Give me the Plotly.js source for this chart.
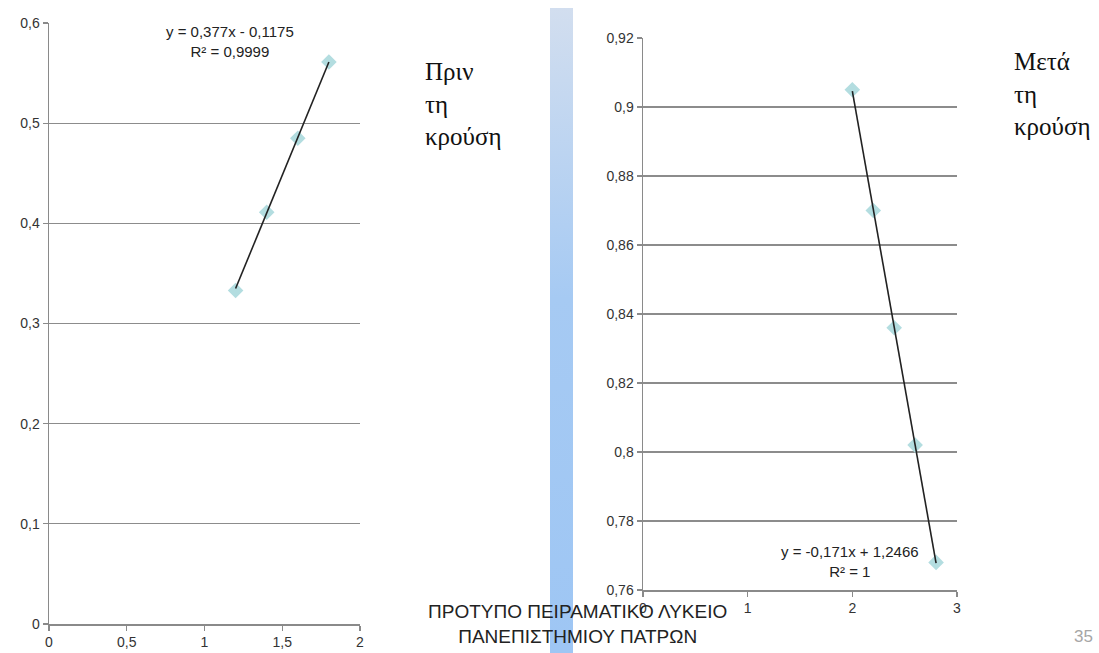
<!DOCTYPE html>
<html>
<head>
<meta charset="utf-8">
<script src="https://cdn.plot.ly/plotly-3.0.1.min.js"></script>
<style>
  html, body { margin: 0; padding: 0; background: #ffffff; }
  #chart { width: 1099px; height: 653px; }
</style>
</head>
<body>
<div id="chart"></div>
<script>
// Before the collision: measured points and fitted line
const beforeX = [1.2, 1.4, 1.6, 1.8];
const beforeY = [0.333, 0.411, 0.485, 0.561];
const beforeSlope = 0.377;
const beforeIntercept = -0.1175;
const beforeR2 = "0,9999";

// After the collision: measured points and fitted line
const afterX = [2.0, 2.2, 2.4, 2.6, 2.8];
const afterY = [0.905, 0.870, 0.836, 0.802, 0.768];
const afterSlope = -0.171;
const afterIntercept = 1.2466;
const afterR2 = "1";

const beforeLabel = "Πριν<br>τη<br>κρούση";
const afterLabel = "Μετά<br>τη<br>κρούση";
const footerLines = ["ΠΡΟΤΥΠΟ ΠΕΙΡΑΜΑΤΙΚΟ ΛΥΚΕΙΟ", "ΠΑΝΕΠΙΣΤΗΜΙΟΥ ΠΑΤΡΩΝ"];
const pageNumber = "35";

const fmt = v => String(v).replace(".", ",");
const fitText = (m, b, r2) =>
  "y = " + fmt(m) + "x " + (b < 0 ? "- " : "+ ") + fmt(Math.abs(b)) + "<br>R² = " + r2;

const lineOf = (xs, m, b) => {
  const x0 = Math.min(...xs), x1 = Math.max(...xs);
  return { x: [x0, x1], y: [m * x0 + b, m * x1 + b] };
};

const W = 1099, H = 653;
const px = v => v / W;
const py = v => 1 - v / H;

const markerStyle = { symbol: "diamond", size: 12, color: "#b3dde0", line: { width: 0 } };
const fitStyle = { color: "#222222", width: 1.6 };

const beforeFit = lineOf(beforeX, beforeSlope, beforeIntercept);
const afterFit = lineOf(afterX, afterSlope, afterIntercept);

const traces = [
  // decorative vertical divider with a soft gradient
  {
    x: [550, 573, 573, 550, 550], y: [8, 8, 653, 653, 8],
    xaxis: "x3", yaxis: "y3", mode: "lines", line: { width: 0 },
    fill: "toself",
    fillgradient: { type: "vertical", colorscale: [[0, "#9ec6f4"], [0.55, "#a6caf3"], [1, "#d2deef"]] },
    hoverinfo: "skip", showlegend: false
  },
  { x: beforeX, y: beforeY, mode: "markers", marker: markerStyle, xaxis: "x", yaxis: "y", showlegend: false },
  { x: beforeFit.x, y: beforeFit.y, mode: "lines", line: fitStyle, xaxis: "x", yaxis: "y", showlegend: false },
  { x: afterX, y: afterY, mode: "markers", marker: markerStyle, xaxis: "x2", yaxis: "y2", showlegend: false },
  { x: afterFit.x, y: afterFit.y, mode: "lines", line: fitStyle, xaxis: "x2", yaxis: "y2", showlegend: false }
];

const tickFont = { family: "Liberation Sans, Arial, sans-serif", size: 14, color: "#333333" };
const axisCommon = {
  showline: true, linecolor: "#8a8a8a", linewidth: 1.5,
  ticks: "outside", ticklen: 5, tickcolor: "#8a8a8a", tickwidth: 1.2,
  tickfont: tickFont, zeroline: false, fixedrange: true
};

const eqFont = { family: "Liberation Sans, Arial, sans-serif", size: 15, color: "#222222" };
const serifFont = { family: "Liberation Serif, Times New Roman, serif", size: 25, color: "#111111" };

const layout = {
  width: W, height: H,
  margin: { l: 0, r: 0, t: 0, b: 0 },
  paper_bgcolor: "#ffffff", plot_bgcolor: "rgba(0,0,0,0)",
  separators: ",.",
  showlegend: false,
  xaxis: Object.assign({}, axisCommon, {
    domain: [px(49), px(360)], range: [0, 2], dtick: 0.5, tick0: 0,
    showgrid: false, anchor: "y"
  }),
  yaxis: Object.assign({}, axisCommon, {
    domain: [py(624), py(23)], range: [0, 0.6], dtick: 0.1, tick0: 0,
    showgrid: true, gridcolor: "#8c8c8c", gridwidth: 1.2, anchor: "x"
  }),
  xaxis2: Object.assign({}, axisCommon, {
    domain: [px(643), px(957)], range: [0, 3], dtick: 1, tick0: 0,
    showgrid: false, anchor: "y2"
  }),
  yaxis2: Object.assign({}, axisCommon, {
    domain: [py(590), py(38)], range: [0.76, 0.92], dtick: 0.02, tick0: 0.76,
    showgrid: true, gridcolor: "#8c8c8c", gridwidth: 1.2, anchor: "x2"
  }),
  xaxis3: { domain: [0, 1], range: [0, W], visible: false, fixedrange: true, anchor: "y3" },
  yaxis3: { domain: [0, 1], range: [H, 0], visible: false, fixedrange: true, anchor: "x3" },
  annotations: [
    {
      xref: "paper", yref: "paper", x: px(230), y: py(42), xanchor: "center", yanchor: "middle",
      text: fitText(beforeSlope, beforeIntercept, beforeR2), showarrow: false, align: "center",
      font: eqFont
    },
    {
      xref: "paper", yref: "paper", x: px(850), y: py(561), xanchor: "center", yanchor: "middle",
      text: fitText(afterSlope, afterIntercept, afterR2), showarrow: false, align: "center",
      font: eqFont
    },
    {
      xref: "paper", yref: "paper", x: px(423), y: py(104), xanchor: "left", yanchor: "middle",
      text: beforeLabel, showarrow: false, align: "left",
      font: serifFont
    },
    {
      xref: "paper", yref: "paper", x: px(1012), y: py(94), xanchor: "left", yanchor: "middle",
      text: afterLabel, showarrow: false, align: "left",
      font: serifFont
    },
    {
      xref: "paper", yref: "paper", x: px(577), y: py(624), xanchor: "center", yanchor: "middle",
      text: footerLines.join("<br>"), showarrow: false, align: "center",
      font: { family: "Liberation Sans, Arial, sans-serif", size: 19, color: "#222222" }
    },
    {
      xref: "paper", yref: "paper", x: px(1083), y: py(636), xanchor: "center", yanchor: "middle",
      text: pageNumber, showarrow: false,
      font: { family: "Liberation Sans, Arial, sans-serif", size: 17, color: "#a6a6a6" }
    }
  ]
};

Plotly.newPlot("chart", traces, layout, { staticPlot: true, displayModeBar: false });
</script>
</body>
</html>
